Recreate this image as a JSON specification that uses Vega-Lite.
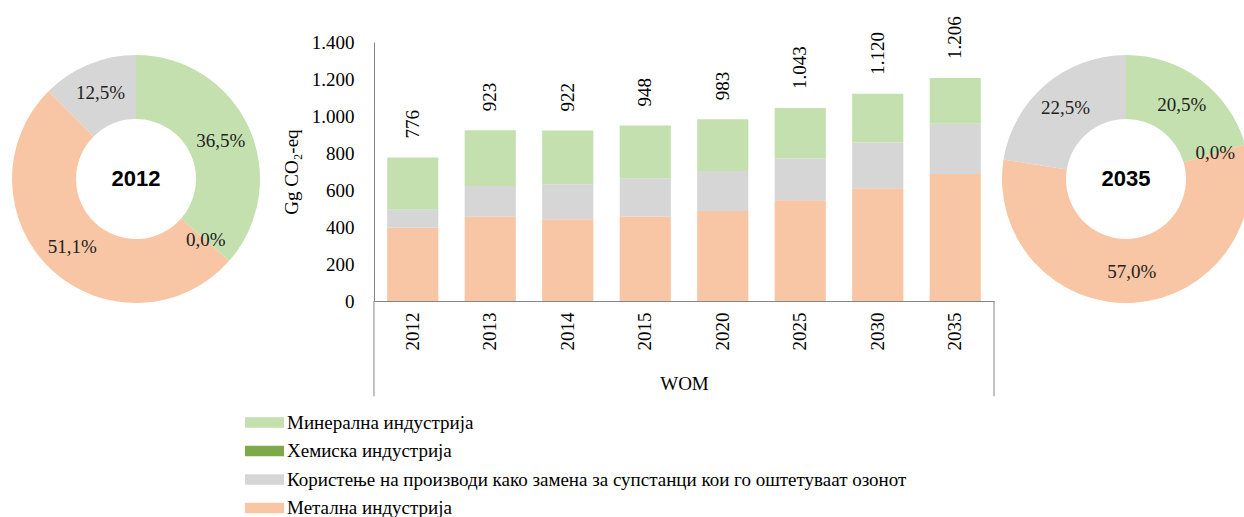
{
  "$schema": "https://vega.github.io/schema/vega-lite/v6.json",
  "padding": {"left": 12, "top": 16, "right": 0, "bottom": 0},
  "background": "white",
  "datasets": {
    "bars": [
      {"year": "2012", "cat": "Метална индустрија", "ord": 1, "value": 396},
      {"year": "2012", "cat": "Користење на производи како замена за супстанци кои го оштетуваат озонот", "ord": 2, "value": 97},
      {"year": "2012", "cat": "Хемиска индустрија", "ord": 3, "value": 0},
      {"year": "2012", "cat": "Минерална индустрија", "ord": 4, "value": 283},
      {"year": "2013", "cat": "Метална индустрија", "ord": 1, "value": 455},
      {"year": "2013", "cat": "Користење на производи како замена за супстанци кои го оштетуваат озонот", "ord": 2, "value": 167},
      {"year": "2013", "cat": "Хемиска индустрија", "ord": 3, "value": 0},
      {"year": "2013", "cat": "Минерална индустрија", "ord": 4, "value": 301},
      {"year": "2014", "cat": "Метална индустрија", "ord": 1, "value": 442},
      {"year": "2014", "cat": "Користење на производи како замена за супстанци кои го оштетуваат озонот", "ord": 2, "value": 189},
      {"year": "2014", "cat": "Хемиска индустрија", "ord": 3, "value": 0},
      {"year": "2014", "cat": "Минерална индустрија", "ord": 4, "value": 291},
      {"year": "2015", "cat": "Метална индустрија", "ord": 1, "value": 457},
      {"year": "2015", "cat": "Користење на производи како замена за супстанци кои го оштетуваат озонот", "ord": 2, "value": 207},
      {"year": "2015", "cat": "Хемиска индустрија", "ord": 3, "value": 0},
      {"year": "2015", "cat": "Минерална индустрија", "ord": 4, "value": 284},
      {"year": "2020", "cat": "Метална индустрија", "ord": 1, "value": 487},
      {"year": "2020", "cat": "Користење на производи како замена за супстанци кои го оштетуваат озонот", "ord": 2, "value": 216},
      {"year": "2020", "cat": "Хемиска индустрија", "ord": 3, "value": 0},
      {"year": "2020", "cat": "Минерална индустрија", "ord": 4, "value": 280},
      {"year": "2025", "cat": "Метална индустрија", "ord": 1, "value": 545},
      {"year": "2025", "cat": "Користење на производи како замена за супстанци кои го оштетуваат озонот", "ord": 2, "value": 225},
      {"year": "2025", "cat": "Хемиска индустрија", "ord": 3, "value": 0},
      {"year": "2025", "cat": "Минерална индустрија", "ord": 4, "value": 273},
      {"year": "2030", "cat": "Метална индустрија", "ord": 1, "value": 610},
      {"year": "2030", "cat": "Користење на производи како замена за супстанци кои го оштетуваат озонот", "ord": 2, "value": 247},
      {"year": "2030", "cat": "Хемиска индустрија", "ord": 3, "value": 0},
      {"year": "2030", "cat": "Минерална индустрија", "ord": 4, "value": 263},
      {"year": "2035", "cat": "Метална индустрија", "ord": 1, "value": 687},
      {"year": "2035", "cat": "Користење на производи како замена за супстанци кои го оштетуваат озонот", "ord": 2, "value": 271},
      {"year": "2035", "cat": "Хемиска индустрија", "ord": 3, "value": 0},
      {"year": "2035", "cat": "Минерална индустрија", "ord": 4, "value": 248}
    ],
    "pie": [
      {"yr": "2012", "cat": "Минерална индустрија", "pord": 1, "pct": 0.365},
      {"yr": "2012", "cat": "Хемиска индустрија", "pord": 2, "pct": 0.0},
      {"yr": "2012", "cat": "Метална индустрија", "pord": 3, "pct": 0.511},
      {"yr": "2012", "cat": "Користење на производи како замена за супстанци кои го оштетуваат озонот", "pord": 4, "pct": 0.125},
      {"yr": "2035", "cat": "Минерална индустрија", "pord": 1, "pct": 0.205},
      {"yr": "2035", "cat": "Хемиска индустрија", "pord": 2, "pct": 0.0},
      {"yr": "2035", "cat": "Метална индустрија", "pord": 3, "pct": 0.570},
      {"yr": "2035", "cat": "Користење на производи како замена за супстанци кои го оштетуваат озонот", "pord": 4, "pct": 0.225}
    ],
    "centre2012": [{"t": "2012"}],
    "centre2035": [{"t": "2035"}],
    "leftEdge": [{"year": "2012", "from": 0, "to": -515}],
    "rightEdge": [{"year": "2035", "from": 0, "to": -515}]
  },
  "bounds": "flush",
  "spacing": 115,
  "hconcat": [
    {
      "width": 246,
      "height": 274,
      "layer": [
        {
          "data": {"name": "pie"},
          "transform": [{"filter": "datum.yr == '2012'"}],
          "mark": {"type": "arc", "innerRadius": 60, "outerRadius": 124},
          "encoding": {
            "theta": {"field": "pct", "type": "quantitative", "stack": true},
            "order": {"field": "pord", "type": "quantitative"},
            "color": {"field": "cat", "type": "nominal", "title": null,
              "scale": {"domain": ["Минерална индустрија", "Хемиска индустрија", "Користење на производи како замена за супстанци кои го оштетуваат озонот", "Метална индустрија"],
                        "range": ["#c3e0ae", "#7fa84a", "#d6d6d6", "#f8c6a4"]}}
          }
        },
        {
          "data": {"name": "pie"},
          "transform": [{"filter": "datum.yr == '2012'"}],
          "mark": {"type": "text", "radius": 93, "fontSize": 19, "color": "#222"},
          "encoding": {
            "theta": {"field": "pct", "type": "quantitative", "stack": true},
            "order": {"field": "pord", "type": "quantitative"},
            "text": {"field": "pct", "type": "quantitative", "format": ".1%"}
          }
        },
        {
          "data": {"name": "centre2012"},
          "mark": {"type": "text", "font": "Liberation Sans", "fontWeight": "bold", "fontSize": 22, "color": "black", "baseline": "middle"},
          "encoding": {"text": {"field": "t", "type": "nominal"}}
        }
      ]
    },
    {
      "bounds": "flush",
      "spacing": 9,
      "hconcat": [
        {
          "width": 620,
          "height": 259,
          "layer": [
            {
              "data": {"name": "bars"},
              "mark": {"type": "bar"},
              "encoding": {
                "x": {"field": "year", "type": "nominal", "title": "WOM",
                  "scale": {"paddingInner": 0.34, "paddingOuter": 0.17},
                  "axis": {"labelAngle": 270, "labelPadding": 11, "ticks": false, "domainColor": "#868686", "titlePadding": 24}},
                "y": {"field": "value", "type": "quantitative", "stack": "zero", "title": "Gg CO₂-eq",
                  "scale": {"domain": [0, 1400]},
                  "axis": {"values": [0, 200, 400, 600, 800, 1000, 1200, 1400], "tickCount": 20, "format": ",.0f", "labelOverlap": false, "ticks": false, "tickSize": 0, "labelPadding": 20, "domainColor": "#868686", "titlePadding": 10}},
                "color": {"field": "cat", "type": "nominal", "title": null,
                  "scale": {"domain": ["Минерална индустрија", "Хемиска индустрија", "Користење на производи како замена за супстанци кои го оштетуваат озонот", "Метална индустрија"],
                            "range": ["#c3e0ae", "#7fa84a", "#d6d6d6", "#f8c6a4"]}},
                "order": {"field": "ord", "type": "quantitative"}
              }
            },
            {
              "data": {"name": "bars"},
              "mark": {"type": "text", "angle": 270, "align": "left", "baseline": "middle", "dx": 19, "fontSize": 19, "color": "black"},
              "encoding": {
                "x": {"field": "year", "type": "nominal"},
                "y": {"aggregate": "sum", "field": "value", "type": "quantitative",
                  "axis": {"values": [0, 200, 400, 600, 800, 1000, 1200, 1400], "tickCount": 20, "format": ",.0f", "labelOverlap": false, "ticks": false, "tickSize": 0, "labelPadding": 20, "domainColor": "#868686", "titlePadding": 10}},
                "text": {"aggregate": "sum", "field": "value", "type": "quantitative", "format": ",.0f"}
              }
            },
            {
              "data": {"name": "leftEdge"},
              "mark": {"type": "rule", "color": "#868686", "strokeWidth": 1, "clip": false},
              "encoding": {
                "x": {"field": "year", "type": "nominal", "bandPosition": -0.258},
                "y": {"field": "from", "type": "quantitative"},
                "y2": {"field": "to"}
              }
            },
            {
              "data": {"name": "rightEdge"},
              "mark": {"type": "rule", "color": "#868686", "strokeWidth": 1, "clip": false},
              "encoding": {
                "x": {"field": "year", "type": "nominal", "bandPosition": 1.258},
                "y": {"field": "from", "type": "quantitative"},
                "y2": {"field": "to"}
              }
            }
          ]
        },
        {
          "width": 246,
          "height": 274,
          "layer": [
            {
              "data": {"name": "pie"},
              "transform": [{"filter": "datum.yr == '2035'"}],
              "mark": {"type": "arc", "innerRadius": 60, "outerRadius": 124},
              "encoding": {
                "theta": {"field": "pct", "type": "quantitative", "stack": true},
                "order": {"field": "pord", "type": "quantitative"},
                "color": {"field": "cat", "type": "nominal", "title": null,
                  "scale": {"domain": ["Минерална индустрија", "Хемиска индустрија", "Користење на производи како замена за супстанци кои го оштетуваат озонот", "Метална индустрија"],
                            "range": ["#c3e0ae", "#7fa84a", "#d6d6d6", "#f8c6a4"]}}
              }
            },
            {
              "data": {"name": "pie"},
              "transform": [{"filter": "datum.yr == '2035'"}],
              "mark": {"type": "text", "radius": 93, "fontSize": 19, "color": "#222"},
              "encoding": {
                "theta": {"field": "pct", "type": "quantitative", "stack": true},
                "order": {"field": "pord", "type": "quantitative"},
                "text": {"field": "pct", "type": "quantitative", "format": ".1%"}
              }
            },
            {
              "data": {"name": "centre2035"},
              "mark": {"type": "text", "font": "Liberation Sans", "fontWeight": "bold", "fontSize": 22, "color": "black", "baseline": "middle"},
              "encoding": {"text": {"field": "t", "type": "nominal"}}
            }
          ]
        }
      ]
    }
  ],
  "config": {
    "font": "Liberation Serif",
    "view": {"stroke": null},
    "locale": {"number": {"decimal": ",", "thousands": ".", "grouping": [3], "currency": ["", " ден."]}},
    "axis": {"grid": false, "labelFont": "Liberation Serif", "titleFont": "Liberation Serif", "labelFontSize": 19, "titleFontSize": 19, "titleFontWeight": "normal", "labelColor": "black", "titleColor": "black"},
    "axisY": {"labelOverlap": false},
    "text": {"font": "Liberation Serif"},
    "legend": {"orient": "none", "legendX": 242, "legendY": 371, "direction": "vertical",
      "symbolType": "M-2.2,-0.6H2.2V0.6H-2.2Z", "symbolSize": 314, "symbolStrokeWidth": 0,
      "labelFont": "Liberation Serif", "labelFontSize": 19, "labelColor": "black", "labelLimit": 900, "labelOffset": 13, "rowPadding": 8.5}
  }
}
